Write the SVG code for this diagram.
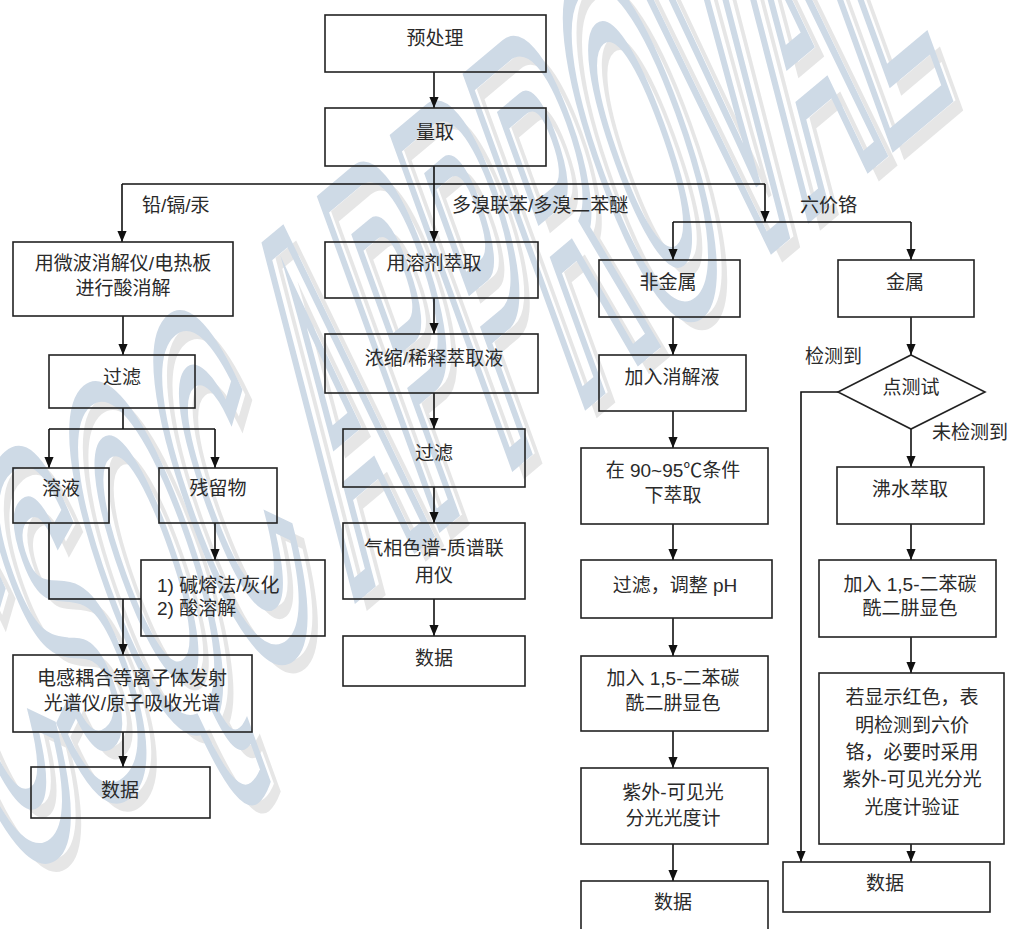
<svg xmlns="http://www.w3.org/2000/svg" width="1010" height="929" viewBox="0 0 1010 929">
<defs>
<marker id="arr" viewBox="0 0 12 10" refX="12" refY="5" markerWidth="11" markerHeight="10" markerUnits="userSpaceOnUse" orient="auto">
<path d="M0,0 L12,5 L0,10 z" fill="#111"/>
</marker>
<style>
.box{fill:none;stroke:#222;stroke-width:1.6}
.t{font-family:"Liberation Sans","Noto Sans CJK SC",sans-serif;font-size:19px;fill:#2a2a2a;text-anchor:middle;dominant-baseline:central}
.l{font-family:"Liberation Sans","Noto Sans CJK SC",sans-serif;font-size:19px;fill:#2a2a2a;dominant-baseline:central}
.c{fill:none;stroke:#111;stroke-width:1.6}
.a{fill:none;stroke:#111;stroke-width:1.6;marker-end:url(#arr)}
.wm{font-family:"Liberation Sans",sans-serif;font-size:460px;font-weight:bold;fill:none}
</style>
</defs>
<rect width="1010" height="929" fill="#fff"/>
<g id="watermark" opacity="0.9">
<text class="wm" stroke="#e4e4e4" stroke-width="10" vector-effect="non-scaling-stroke" transform="translate(22,892) rotate(-40) skewX(-20) scale(0.31,1)">CSQC APPROVAL</text>
<text class="wm" stroke="#c9d6e4" stroke-width="16" vector-effect="non-scaling-stroke" transform="translate(10,880) rotate(-40) skewX(-20) scale(0.31,1)">CSQC APPROVAL</text>
</g>
<g id="connectors">
<path class="a" d="M434,72 V108"/>
<path class="a" d="M434,166 V242"/>
<path class="c" d="M122,184 H765"/>
<path class="a" d="M122,184 V242"/>
<path class="a" d="M765,184 V222"/>
<path class="c" d="M673,222 H911"/>
<path class="a" d="M673,222 V260"/>
<path class="a" d="M911,222 V260"/>
<path class="a" d="M123,316 V355"/>
<path class="c" d="M123,408 V429 M49,429 H215"/>
<path class="a" d="M49,429 V468"/>
<path class="a" d="M215,429 V468"/>
<path class="a" d="M215,523 V560"/>
<path class="c" d="M49,523 V599 H141"/>
<path class="a" d="M123,599 V655"/>
<path class="a" d="M123,732 V767"/>
<path class="a" d="M434,298 V334"/>
<path class="a" d="M434,393 V429"/>
<path class="a" d="M434,487 V523"/>
<path class="a" d="M434,599 V636"/>
<path class="a" d="M673,317 V355"/>
<path class="a" d="M673,411 V448"/>
<path class="a" d="M673,524 V560"/>
<path class="a" d="M673,618 V656"/>
<path class="a" d="M673,731 V768"/>
<path class="a" d="M673,844 V881"/>
<path class="a" d="M911,317 V355"/>
<path class="a" d="M911,429 V467"/>
<path class="a" d="M911,524 V560"/>
<path class="a" d="M911,637 V673"/>
<path class="a" d="M911,844 V862"/>
<path class="a" d="M838,392 H801 V862"/>
</g>
<g id="labels">
<text class="l" x="142" y="205">铅/镉/汞</text>
<text class="l" x="452" y="205">多溴联苯/多溴二苯醚</text>
<text class="l" x="800" y="205">六价铬</text>
<text class="l" x="805" y="356">检测到</text>
<text class="l" x="932" y="432">未检测到</text>
</g>
<g id="n-pre"><rect class="box" x="325" y="15" width="221" height="57"/><text class="t" x="435" y="38">预处理</text></g>
<g id="n-take"><rect class="box" x="325" y="108" width="221" height="58"/><text class="t" x="435" y="132">量取</text></g>
<g id="n-acid"><rect class="box" x="13" y="242" width="220" height="74"/><text class="t" x="123" y="263">用微波消解仪/电热板</text><text class="t" x="123" y="288">进行酸消解</text></g>
<g id="n-filter1"><rect class="box" x="49" y="355" width="146" height="53"/><text class="t" x="122" y="377">过滤</text></g>
<g id="n-sol"><rect class="box" x="13" y="468" width="96" height="55"/><text class="t" x="61" y="488">溶液</text></g>
<g id="n-res"><rect class="box" x="159" y="468" width="118" height="55"/><text class="t" x="218" y="488">残留物</text></g>
<g id="n-fuse"><rect class="box" x="141" y="560" width="184" height="76"/><text class="l" x="157" y="585">1) 碱熔法/灰化</text><text class="l" x="157" y="608">2) 酸溶解</text></g>
<g id="n-icp"><rect class="box" x="13" y="655" width="239" height="77"/><text class="t" x="132" y="678">电感耦合等离子体发射</text><text class="t" x="132" y="703">光谱仪/原子吸收光谱</text></g>
<g id="n-data1"><rect class="box" x="31" y="767" width="179" height="51"/><text class="t" x="120" y="790">数据</text></g>
<g id="n-solv"><rect class="box" x="325" y="242" width="213" height="56"/><text class="t" x="434" y="263">用溶剂萃取</text></g>
<g id="n-conc"><rect class="box" x="325" y="334" width="213" height="59"/><text class="t" x="434" y="358">浓缩/稀释萃取液</text></g>
<g id="n-filter2"><rect class="box" x="343" y="429" width="182" height="58"/><text class="t" x="434" y="453">过滤</text></g>
<g id="n-gcms"><rect class="box" x="343" y="523" width="182" height="76"/><text class="t" x="434" y="548">气相色谱-质谱联</text><text class="t" x="434" y="575">用仪</text></g>
<g id="n-data2"><rect class="box" x="343" y="636" width="182" height="50"/><text class="t" x="434" y="658">数据</text></g>
<g id="n-nonmetal"><rect class="box" x="599" y="260" width="141" height="57"/><text class="t" x="668" y="282">非金属</text></g>
<g id="n-digest"><rect class="box" x="599" y="355" width="147" height="56"/><text class="t" x="672" y="377">加入消解液</text></g>
<g id="n-heat"><rect class="box" x="581" y="448" width="187" height="76"/><text class="t" x="673" y="470">在 90~95℃条件</text><text class="t" x="673" y="495">下萃取</text></g>
<g id="n-ph"><rect class="box" x="581" y="560" width="191" height="58"/><text class="t" x="675" y="585">过滤，调整 pH</text></g>
<g id="n-dpc1"><rect class="box" x="581" y="656" width="187" height="75"/><text class="t" x="673" y="678">加入 1,5-二苯碳</text><text class="t" x="673" y="703">酰二肼显色</text></g>
<g id="n-uv"><rect class="box" x="581" y="768" width="187" height="76"/><text class="t" x="673" y="792">紫外-可见光</text><text class="t" x="673" y="818">分光光度计</text></g>
<g id="n-data3"><rect class="box" x="581" y="881" width="187" height="60"/><text class="t" x="673" y="902">数据</text></g>
<g id="n-metal"><rect class="box" x="838" y="260" width="136" height="57"/><text class="t" x="905" y="282">金属</text></g>
<g id="n-spot"><path class="box" d="M911,355 L985,392 L911,429 L838,392 Z"/><text class="t" x="911" y="387">点测试</text></g>
<g id="n-boil"><rect class="box" x="837" y="467" width="147" height="57"/><text class="t" x="910" y="489">沸水萃取</text></g>
<g id="n-dpc2"><rect class="box" x="819" y="560" width="177" height="77"/><text class="t" x="910" y="584">加入 1,5-二苯碳</text><text class="t" x="910" y="608">酰二肼显色</text></g>
<g id="n-red"><rect class="box" x="819" y="673" width="185" height="171"/><text class="t" x="912" y="697">若显示红色，表</text><text class="t" x="912" y="725">明检测到六价</text><text class="t" x="912" y="752">铬，必要时采用</text><text class="t" x="912" y="779">紫外-可见光分光</text><text class="t" x="912" y="807">光度计验证</text></g>
<g id="n-data4"><rect class="box" x="783" y="862" width="207" height="50"/><text class="t" x="885" y="883">数据</text></g>
</svg>
